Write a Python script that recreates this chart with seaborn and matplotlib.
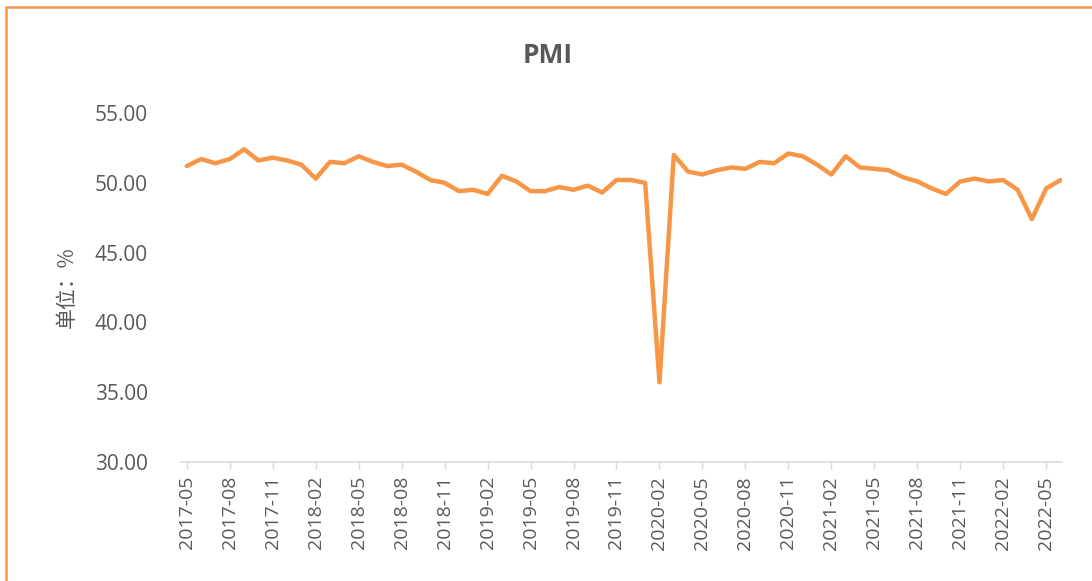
import matplotlib
matplotlib.use("Agg")
import matplotlib.pyplot as plt
import seaborn as sns
import pandas as pd
import numpy as np
from matplotlib.patches import Rectangle

months = pd.period_range("2017-05", "2022-06", freq="M").strftime("%Y-%m").tolist()
pmi = [51.2, 51.7, 51.4, 51.7, 52.4, 51.6, 51.8, 51.6,
       51.3, 50.3, 51.5, 51.4, 51.9, 51.5, 51.2, 51.3, 50.8, 50.2, 50.0, 49.4,
       49.5, 49.2, 50.5, 50.1, 49.4, 49.4, 49.7, 49.5, 49.8, 49.3, 50.2, 50.2,
       50.0, 35.7, 52.0, 50.8, 50.6, 50.9, 51.1, 51.0, 51.5, 51.4, 52.1, 51.9,
       51.3, 50.6, 51.9, 51.1, 51.0, 50.9, 50.4, 50.1, 49.6, 49.2, 50.1, 50.3,
       50.1, 50.2, 49.5, 47.4, 49.6, 50.2]
title = "PMI"
ylabel = "单位：%"
yticks = [30, 35, 40, 45, 50, 55]

df = pd.DataFrame({"month": months, "pmi": pmi, "idx": np.arange(len(months))})

sns.set_theme(style="white")
plt.rcParams['font.family'] = ['Open Sans', 'Noto Sans CJK SC', 'DejaVu Sans']

fig = plt.figure(figsize=(10.92, 5.81), dpi=100)
ax = fig.add_axes([0.1658, 0.2048, 0.9725 - 0.1658, 0.8055 - 0.2048])

sns.lineplot(data=df, x="idx", y="pmi", ax=ax, color="#F79646", linewidth=3.2)

grey = "#595959"
ax.set_ylim(30, 55)
ax.set_yticks(yticks)
ax.set_yticklabels([f"{v:.2f}" for v in yticks], color=grey, fontsize=15)
tick_idx = list(range(0, len(months), 3))
ax.set_xticks(tick_idx)
ax.set_xticklabels([months[i] for i in tick_idx], rotation=90, color=grey, fontsize=14)
ax.set_xlim(-0.4, len(months) - 1 + 0.1)

for s in ["top", "right", "left"]:
    ax.spines[s].set_visible(False)
ax.spines["bottom"].set_color("#D9D9D9")
ax.spines["bottom"].set_linewidth(1.2)
ax.tick_params(axis="x", which="major", bottom=True, length=5, width=1, color="#D9D9D9", pad=5)
ax.tick_params(axis="y", length=0, pad=24)
ax.set_xlabel("")
ax.set_ylabel(ylabel, color=grey, fontsize=15, family=['Noto Sans CJK SC', 'DejaVu Sans'], labelpad=12)
ax.grid(False)

fig.text(0.502, 0.905, title, ha="center", va="center", fontsize=19, fontweight="bold", color=grey)

fig.patches.append(Rectangle((6/1092, -0.1), 1.2, 1 - 7/581 + 0.1, transform=fig.transFigure,
                             fill=False, edgecolor="#F79646", linewidth=1.8, figure=fig))

fig.savefig("out.png", dpi=100)
